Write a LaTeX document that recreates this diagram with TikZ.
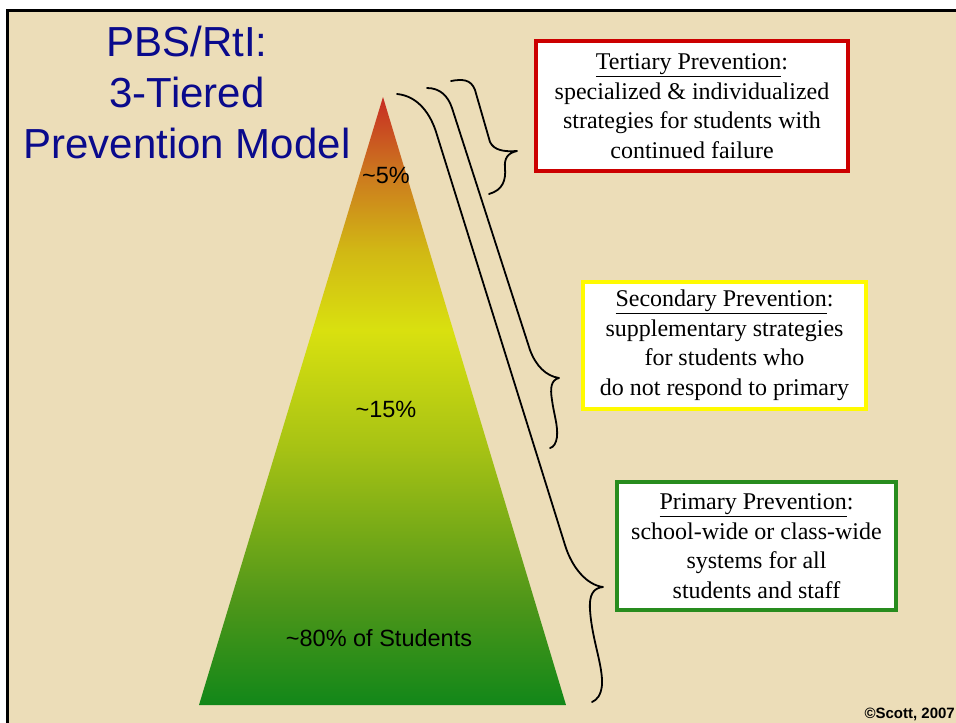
\documentclass[tikz,border=0pt]{standalone}
\usepackage{fontspec}
\setmainfont{Liberation Serif}
\setsansfont{Liberation Sans}
\usetikzlibrary{positioning}

\definecolor{parchment}{RGB}{236,221,184}
\definecolor{titleblue}{RGB}{10,10,140}
\definecolor{tertred}{RGB}{204,0,0}
\definecolor{secyellow}{RGB}{255,250,0}
\definecolor{primgreen}{RGB}{40,140,30}

% red tip -> yellow middle -> green base
\pgfdeclareverticalshading{tiers}{100bp}{%
  rgb(0bp)=(0.07,0.53,0.10);
  rgb(25bp)=(0.07,0.53,0.10);
  rgb(33.6bp)=(0.31,0.59,0.10);
  rgb(46bp)=(0.65,0.76,0.08);
  rgb(55.8bp)=(0.85,0.88,0.06);
  rgb(62.4bp)=(0.82,0.72,0.08);
  rgb(69bp)=(0.80,0.46,0.12);
  rgb(75bp)=(0.78,0.17,0.14);
  rgb(100bp)=(0.78,0.17,0.14)}

\begin{document}
\begin{tikzpicture}[x=1pt, y=-1pt,
    title/.style={anchor=base, inner sep=0pt, text=titleblue, font=\fontsize{42}{50}\sffamily},
    share/.style={inner sep=0pt, font=\fontsize{23.5}{28}\sffamily},
    tierbox/.style={draw, line width=4pt, fill=white, align=center, inner sep=0pt,
                    font=\fontsize{24}{29.5}\selectfont},
    brace/.style={line width=1.8pt, line cap=round, line join=round}]

    \useasboundingbox (0,0) rectangle (956,723);

    % --- 1. page and frame ---
    \fill[white] (0,0) rectangle (956,723);
    \fill[parchment] (7,10.5) rectangle (956,723);
    \draw[line width=3pt] (7,723) -- (7,10.5) -- (956,10.5);

    % --- 2. title ---
    \node[title] (titleA) at (187,56)  {PBS/RtI:};
    \node[title] (titleB) at (187,107) {3-Tiered};
    \node[title] (titleC) at (187,158) {Prevention Model};

    % --- 3. pyramid ---
    \coordinate (apex)  at (383,97);
    \coordinate (baseR) at (566,705);
    \coordinate (baseL) at (199,705);
    \shade[shading=tiers] (apex) -- (baseR) -- (baseL) -- cycle;

    \node[share] (tier5)  at (386,175) {\textasciitilde5\%};
    \node[share] (tier15) at (386,409) {\textasciitilde15\%};
    \node[share] (tier80) at (379,638) {\textasciitilde80\% of Students};

    % --- 4. prevention boxes ---
    \node[tierbox, draw=tertred, minimum width=312pt, minimum height=130pt] (tertiary) at (692,106)
        {\underline{Tertiary Prevention}:\\specialized \& individualized\\strategies for students with\\continued failure};
    \node[tierbox, draw=secyellow, minimum width=283pt, minimum height=127pt] (secondary) at (724.5,345.5)
        {\underline{Secondary Prevention}:\\supplementary strategies\\for students who\\do not respond to primary};
    \node[tierbox, draw=primgreen, minimum width=279pt, minimum height=128pt] (primary) at (756.5,546)
        {\underline{Primary Prevention}:\\school-wide or class-wide\\systems for all\\students and staff};

    % --- 5. braces (tips point at the boxes) ---
    \coordinate (tertTip) at (517,151);
    \coordinate (secTip)  at (559,378);
    \coordinate (primTip) at (603,587);

    \draw[brace] (451,81) .. controls (462,79) and (471,79) .. (475,90) -- (490,142)
        .. controls (494,150) and (503,152) .. (tertTip)
        .. controls (508,153) and (504,158) .. (505,168)
        .. controls (506,180) and (503,190) .. (489,194);
    \draw[brace] (427,88) .. controls (440,88) and (448,96) .. (452,108) -- (530,350)
        .. controls (536,366) and (546,376) .. (secTip)
        .. controls (551,380) and (550,388) .. (552,400)
        .. controls (554,415) and (558,425) .. (557,437)
        .. controls (556,443) and (554,447) .. (550,448);
    \draw[brace] (397,94) .. controls (418,96) and (431,114) .. (437,135) -- (565,545)
        .. controls (572,568) and (587,585) .. (primTip)
        .. controls (593,588) and (589,595) .. (590,610)
        .. controls (592,640) and (603,665) .. (602,685)
        .. controls (601,695) and (597,700) .. (592,702);

    % --- 6. credit ---
    \node[anchor=base east, inner sep=0pt, font=\fontsize{15}{18}\sffamily\bfseries] (credit)
        at (955,718) {\textcopyright Scott, 2007};

\end{tikzpicture}
\end{document}
